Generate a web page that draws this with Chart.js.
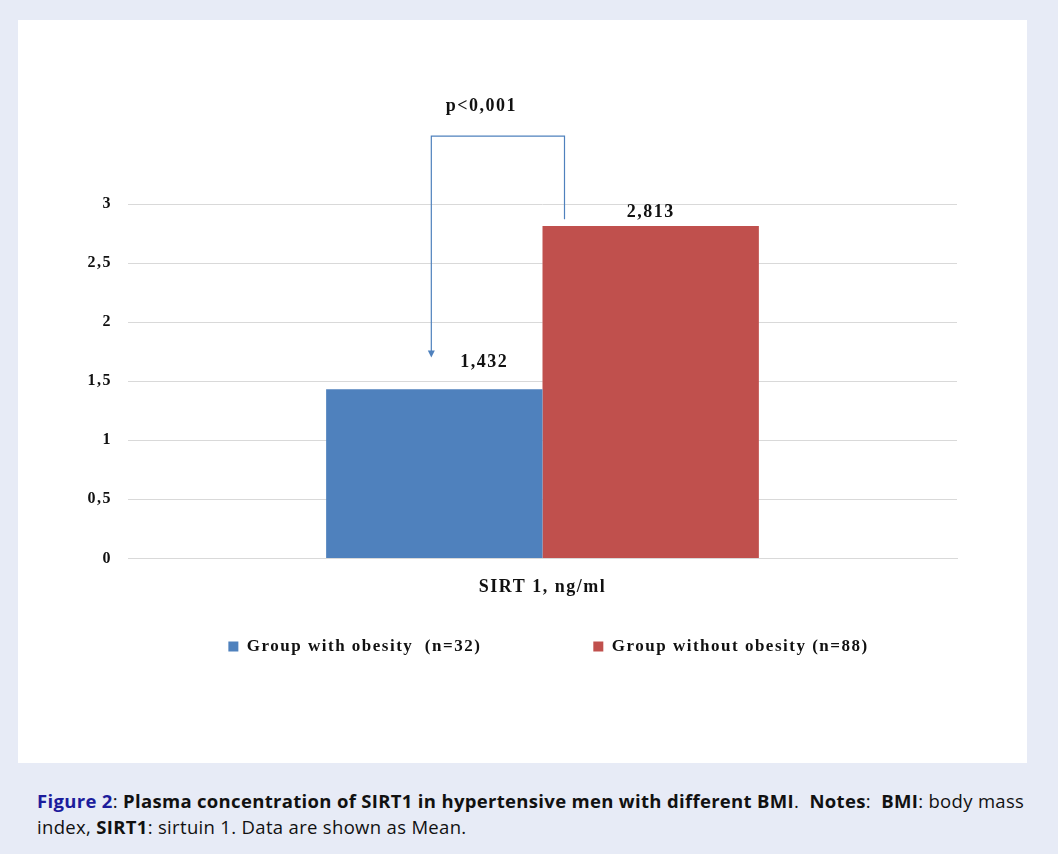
<!DOCTYPE html>
<html>
<head>
<meta charset="utf-8">
<script src="https://cdn.jsdelivr.net/npm/chart.js@4.4.1/dist/chart.umd.min.js"></script>
<style>
  html, body { margin: 0; padding: 0; background: #e7ebf6; }
  body { width: 1058px; height: 854px; position: relative; overflow: hidden; }
  #panel { position: absolute; left: 18px; top: 20px; width: 1009px; height: 743px; background: #fff; }
  #caption {
    position: absolute; left: 37px; top: 788px; width: 1010px;
    font-family: "Liberation Sans Narrow", "Open Sans", sans-serif;
    font-size: 18.5px; line-height: 26px; color: #111; letter-spacing: 0.32px;
  }
  #caption .fig { color: #1c1c9c; font-weight: bold; }
  #caption b { font-weight: bold; }
</style>
</head>
<body>
<div id="panel"><canvas id="chart" width="1009" height="743"></canvas></div>
<div id="caption"><span class="fig">Figure 2</span>: <b>Plasma concentration of SIRT1 in hypertensive men with different BMI</b>.&nbsp; <b>Notes</b>:&nbsp; <b>BMI</b>: body mass index, <b>SIRT1</b>: sirtuin 1. Data are shown as Mean.</div>
<script>
// Chart data
const categories = ['SIRT 1, ng/ml'];
const seriesNames = ['Group with obesity  (n=32)', 'Group without obesity (n=88)'];
const obeseValues = [1.432];
const nonObeseValues = [2.813];
const yTicks = [0, 0.5, 1, 1.5, 2, 2.5, 3];
const pLabel = 'p<0,001';

const serif = '"Liberation Serif", "Times New Roman", serif';

function fmt(v) {
  return String(v).replace('.', ',');
}

// The original text is a bit stretched, so widen all canvas text a little
const spacing = {
  id: 'spacing',
  beforeUpdate(chart) { chart.ctx.letterSpacing = '1.5px'; },
  beforeDraw(chart) { chart.ctx.letterSpacing = '1.5px'; }
};

// Wide legend spacing pushes the legend down; pull it back under the axis label
const legendShift = {
  id: 'legendShift',
  afterLayout(chart) {
    const lg = chart.legend;
    lg.top -= 82;
    lg.bottom -= 82;
    lg.left += 61;
    lg.right += 61;
  }
};

// Labels above the bars
const valueLabels = {
  id: 'valueLabels',
  afterDatasetsDraw(chart) {
    const ctx = chart.ctx;
    const offsets = [22, 9];
    const shifts = [50, 0];
    ctx.save();
    ctx.font = 'bold 18px ' + serif;
    ctx.fillStyle = '#111';
    ctx.textAlign = 'center';
    ctx.textBaseline = 'alphabetic';
    chart.data.datasets.forEach((ds, i) => {
      chart.getDatasetMeta(i).data.forEach((bar, j) => {
        ctx.fillText(fmt(ds.data[j].toFixed(3)), bar.x + shifts[i], bar.y - offsets[i]);
      });
    });
    ctx.restore();
  }
};

// Significance bracket with arrow
const bracket = {
  id: 'bracket',
  afterDatasetsDraw(chart) {
    const ctx = chart.ctx;
    const y = chart.scales.y;
    const b0 = chart.getDatasetMeta(0).data[0];
    const b1 = chart.getDatasetMeta(1).data[0];
    const xl = b0.x - 3;
    const xr = b1.x - b1.width / 2 + 22;
    const top = y.getPixelForValue(3.575);
    const tip = y.getPixelForValue(1.70);
    const rb = y.getPixelForValue(2.87);
    ctx.save();
    ctx.strokeStyle = '#4f81bd';
    ctx.fillStyle = '#4f81bd';
    ctx.lineWidth = 1.2;
    ctx.beginPath();
    ctx.moveTo(xr, rb);
    ctx.lineTo(xr, top);
    ctx.lineTo(xl, top);
    ctx.lineTo(xl, tip - 6);
    ctx.stroke();
    ctx.beginPath();
    ctx.moveTo(xl - 3.5, tip - 7);
    ctx.lineTo(xl + 3.5, tip - 7);
    ctx.lineTo(xl, tip);
    ctx.closePath();
    ctx.fill();
    ctx.font = 'bold 18px ' + serif;
    ctx.fillStyle = '#111';
    ctx.textAlign = 'center';
    ctx.fillText(pLabel, xl + 50, top - 30);
    ctx.restore();
  }
};

new Chart(document.getElementById('chart'), {
  type: 'bar',
  data: {
    labels: categories,
    datasets: [
      { label: seriesNames[0], data: obeseValues, backgroundColor: '#4f81bd' },
      { label: seriesNames[1], data: nonObeseValues, backgroundColor: '#c0504d' }
    ]
  },
  options: {
    responsive: false,
    animation: false,
    layout: { padding: { top: 184, right: 70, bottom: 16, left: 0 } },
    datasets: { bar: { categoryPercentage: 0.522, barPercentage: 1.0 } },
    scales: {
      x: {
        grid: { display: false },
        border: { color: '#d9d9d9' },
        ticks: { color: '#111', font: { family: serif, size: 18, weight: 'bold' }, padding: 10 }
      },
      y: {
        min: 0,
        max: 3,
        afterBuildTicks(axis) { axis.ticks = yTicks.map(v => ({ value: v })); },
        afterFit(axis) { axis.width = 110; },
        grid: { color: '#d9d9d9', drawTicks: false },
        border: { display: false },
        ticks: {
          color: '#111',
          padding: 16,
          font: { family: serif, size: 16, weight: 'bold' },
          callback: v => fmt(v)
        }
      }
    },
    plugins: {
      legend: {
        position: 'bottom',
        labels: {
          color: '#111',
          font: { family: serif, size: 17, weight: 'bold' },
          boxWidth: 10,
          boxHeight: 10,
          padding: 112
        }
      },
      tooltip: { enabled: false }
    }
  },
  plugins: [spacing, legendShift, valueLabels, bracket]
});
</script>
</body>
</html>
